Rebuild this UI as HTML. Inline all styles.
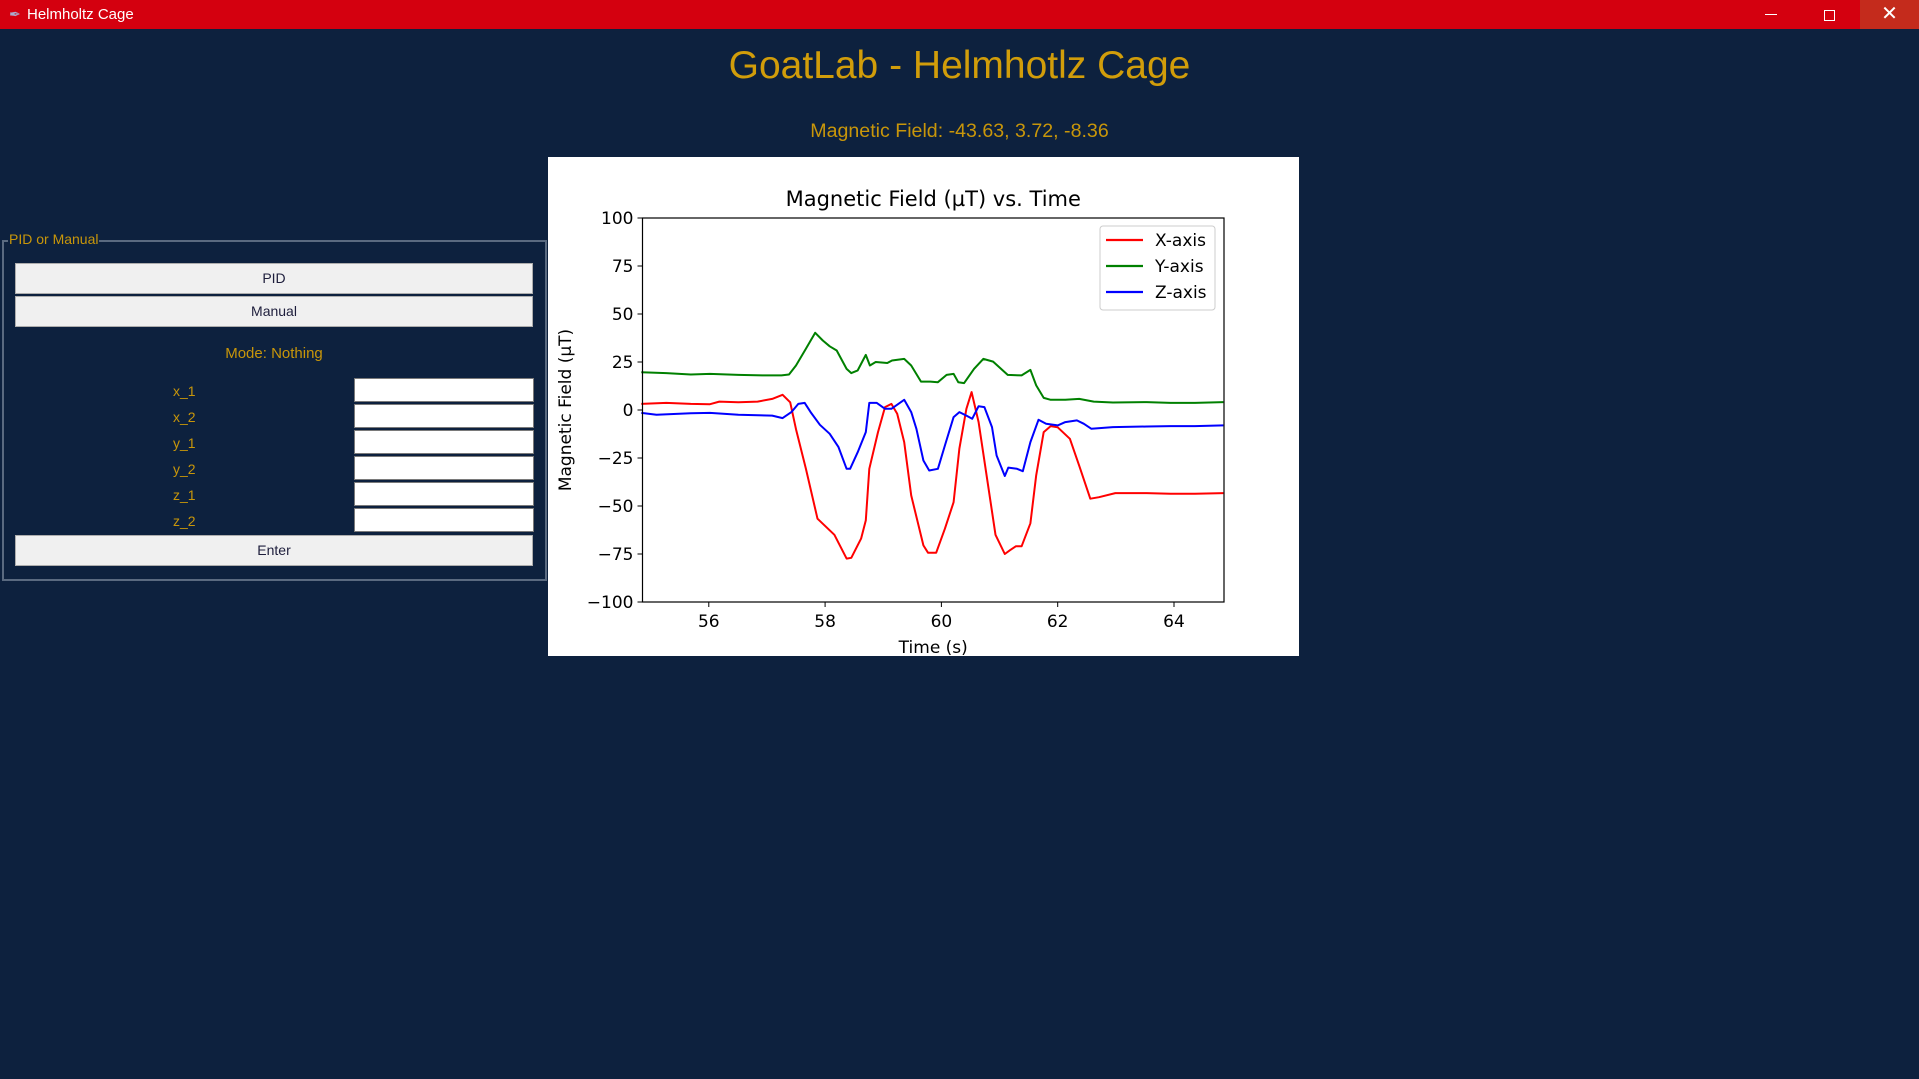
<!DOCTYPE html>
<html><head><meta charset="utf-8"><style>
body{margin:0;width:1919px;height:1079px;background:#0d213e;position:relative;overflow:hidden;font-family:"Liberation Sans",sans-serif}
.abs{position:absolute}
.btn{position:absolute;left:15px;width:518px;background:#f0f0f0;border:1px solid #adadad;box-sizing:border-box;color:#1e1e3c;font-size:14px;text-align:center}
.lbl{position:absolute;color:#c8960a;font-size:14px}
.ent{position:absolute;left:354px;width:180px;height:24px;background:#fff;border:1px solid #7a7a7a;box-sizing:border-box}
</style></head><body>
<div class="abs" style="left:0;top:0;width:1919px;height:29px;background:#d4000f"></div>
<div class="abs" style="left:9px;top:6px;font-size:14px;color:#aac">✒</div>
<div class="abs" style="left:27px;top:6px;color:#fff;font-size:15px">Helmholtz Cage</div>
<div class="abs" style="left:1765px;top:14px;width:12px;height:1px;background:#fff"></div>
<div class="abs" style="left:1824px;top:10px;width:9px;height:9px;border:1px solid #fff"></div>
<div class="abs" style="left:1860px;top:0;width:59px;height:29px;background:#c42b1c;color:#fff;font-size:20px;text-align:center;line-height:29px">✕</div>
<div class="abs" style="left:0;width:1919px;top:44px;text-align:center;color:#d19d0a;font-size:39px">GoatLab - Helmhotlz Cage</div>
<div class="abs" style="left:0;width:1919px;top:120px;text-align:center;color:#c8960a;font-size:19.6px">Magnetic Field: -43.63, 3.72, -8.36</div>

<div class="abs" style="left:2px;top:240px;width:545px;height:341px;border:2px solid #5a6a80;box-sizing:border-box"></div>
<div class="lbl" style="left:8px;top:231px;background:#0d213e;padding:0 1px">PID or Manual</div>
<div class="btn" style="top:263px;height:31px;line-height:29px">PID</div>
<div class="btn" style="top:296px;height:31px;line-height:29px">Manual</div>
<div class="lbl" style="left:0;width:548px;text-align:center;top:345px;font-size:15px">Mode: Nothing</div>
<div class="lbl" style="left:173px;top:383px">x_1</div>
<div class="ent" style="top:378px"></div>
<div class="lbl" style="left:173px;top:409px">x_2</div>
<div class="ent" style="top:404px"></div>
<div class="lbl" style="left:173px;top:435px">y_1</div>
<div class="ent" style="top:430px"></div>
<div class="lbl" style="left:173px;top:461px">y_2</div>
<div class="ent" style="top:456px"></div>
<div class="lbl" style="left:173px;top:487px">z_1</div>
<div class="ent" style="top:482px"></div>
<div class="lbl" style="left:173px;top:513px">z_2</div>
<div class="ent" style="top:508px"></div>
<div class="btn" style="top:535px;height:31px;line-height:29px">Enter</div>

<svg class="abs" style="left:548px;top:157px" width="751" height="499" id="chart"></svg>
<script>
const xTimes=[54.84,55.27,55.69,56.02,56.18,56.51,56.84,57.09,57.27,57.40,57.50,57.67,57.87,58.16,58.37,58.45,58.62,58.70,58.76,58.91,59.03,59.14,59.24,59.36,59.48,59.69,59.77,59.91,60.06,60.21,60.31,60.43,60.52,60.64,60.76,60.93,61.09,61.18,61.28,61.38,61.53,61.63,61.76,61.88,62.00,62.21,62.37,62.56,62.71,62.99,63.53,63.94,64.36,64.85];
const xVals=[3.2,3.7,3.2,3,4.4,4,4.4,5.8,7.9,4,-10,-30.6,-56.6,-65,-77.4,-77,-67,-57.5,-30.6,-11.5,1.5,3.2,-2,-16.7,-44.5,-70.5,-74.3,-74.3,-61.8,-48,-20,0.6,9.3,-6.3,-30.6,-65,-75,-73,-71,-71,-59,-34,-11.5,-8.4,-9,-15,-29,-46.2,-45.4,-43.3,-43.3,-43.6,-43.6,-43.3];
const yTimes=[54.84,55.27,55.69,56.02,56.51,56.92,57.25,57.38,57.50,57.67,57.83,57.96,58.08,58.20,58.37,58.45,58.56,58.70,58.77,58.87,59.07,59.15,59.36,59.48,59.65,59.81,59.94,60.09,60.21,60.29,60.39,60.56,60.72,60.89,61.14,61.38,61.53,61.63,61.76,61.88,62.13,62.37,62.62,62.95,63.53,63.94,64.36,64.85];
const yVals=[19.7,19.2,18.5,18.8,18.3,18,18,18.5,23.2,31.9,40.2,36.2,33.2,31,21.4,19.2,20.6,28.7,23.2,25,24.5,25.8,26.6,23.2,14.8,14.8,14.5,18.3,18.8,14.5,14,21.4,26.6,25.2,18.3,18,20.9,12.8,6.3,5.3,5.3,5.8,4.4,3.9,4.1,3.7,3.7,4.1];
const zTimes=[54.84,55.10,55.69,56.02,56.51,57.09,57.27,57.42,57.54,57.65,57.75,57.91,58.08,58.23,58.37,58.43,58.56,58.70,58.76,58.89,59.03,59.14,59.36,59.48,59.57,59.69,59.79,59.94,60.06,60.21,60.31,60.43,60.53,60.64,60.74,60.87,60.95,61.09,61.15,61.30,61.40,61.53,61.67,61.80,62.00,62.13,62.33,62.45,62.58,62.95,63.53,63.94,64.36,64.85];
const zVals=[-1.5,-2.5,-1.7,-1.5,-2.5,-2.9,-4.2,-1.1,3.2,3.7,-1.1,-7.7,-12.4,-19.3,-30.6,-30.6,-22,-11.5,3.7,3.7,0.6,0.6,5.3,-1.1,-9.8,-26.3,-31.5,-30.6,-18.5,-3.7,-1.1,-2.9,-4.6,2,1.5,-8.9,-23.7,-34.4,-30,-30.6,-31.9,-16.7,-5.1,-7.2,-8,-6.3,-5.4,-7.2,-9.8,-8.9,-8.6,-8.4,-8.4,-8];
const yTicks=[100,75,50,25,0,-25,-50,-75,-100];
const tTicks=[56,58,60,62,64];
const seriesNames=["X-axis","Y-axis","Z-axis"];
const seriesColors=["#ff0000","#008000","#0000ff"];

const svg=document.getElementById('chart');
const NS='http://www.w3.org/2000/svg';
const L=94.5,R=676,T=61,B=445;
const tMin=54.86,tMax=64.86,vMin=-100,vMax=100;
const sx=t=>L+(t-tMin)/(tMax-tMin)*(R-L);
const sy=v=>B-(v-vMin)/(vMax-vMin)*(B-T);
function mk(tag,attrs,name){const e=document.createElementNS(NS,tag);for(const k in attrs)e.setAttribute(k,attrs[k]);


svg.appendChild(e);return e;}
mk('rect',{x:0,y:0,width:751,height:499,fill:'#fff'},'chart-background');
const ttl=mk('text',{x:(L+R)/2,y:49,'text-anchor':'middle','font-size':21,'font-family':'DejaVu Sans, sans-serif',fill:'#000'},'chart-title');ttl.textContent='Magnetic Field (µT) vs. Time';
yTicks.forEach(v=>{const y=sy(v);
mk('line',{x1:L-5,x2:L,y1:y,y2:y,stroke:'#000','stroke-width':1},'y-tick');
const t=mk('text',{x:L-9,y:y+6,'text-anchor':'end','font-size':17,'font-family':'DejaVu Sans, sans-serif',fill:'#000'},'y-tick-label');t.textContent=String(v).replace('-','−');});
tTicks.forEach(v=>{const x=sx(v);
mk('line',{x1:x,x2:x,y1:B,y2:B+5,stroke:'#000','stroke-width':1},'x-tick');
const t=mk('text',{x:x,y:B+25,'text-anchor':'middle','font-size':17,'font-family':'DejaVu Sans, sans-serif',fill:'#000'},'x-tick-label');t.textContent=v;});
const xl=mk('text',{x:(L+R)/2,y:496,'text-anchor':'middle','font-size':17,'font-family':'DejaVu Sans, sans-serif',fill:'#000'},'x-axis-title');xl.textContent='Time (s)';
const yl=mk('text',{x:0,y:0,'text-anchor':'middle','font-size':17,'font-family':'DejaVu Sans, sans-serif',fill:'#000',transform:`translate(23,${(T+B)/2}) rotate(-90)`},'y-axis-title');yl.textContent='Magnetic Field (µT)';
const data=[[xTimes,xVals],[yTimes,yVals],[zTimes,zVals]];
data.forEach((d,i)=>{const pts=d[0].map((t,j)=>sx(t).toFixed(1)+','+sy(d[1][j]).toFixed(1)).join(' ');
mk('polyline',{points:pts,fill:'none',stroke:seriesColors[i],'stroke-width':2,'stroke-linejoin':'round'},'series-'+seriesNames[i].toLowerCase());});
mk('rect',{x:L,y:T,width:R-L,height:B-T,fill:'none',stroke:'#000','stroke-width':1.2},'plot-frame');
mk('rect',{x:552,y:69,width:115,height:84,rx:3,fill:'#fff',stroke:'#ccc'},'legend');
seriesNames.forEach((n,i)=>{const y=83+i*26;
mk('line',{x1:558,x2:595,y1:y,y2:y,stroke:seriesColors[i],'stroke-width':2.2},'legend-swatch');
const t=mk('text',{x:607,y:y+6,'font-size':17,'font-family':'DejaVu Sans, sans-serif',fill:'#000'},'legend-entry');t.textContent=n;});
</script>
</body></html>
